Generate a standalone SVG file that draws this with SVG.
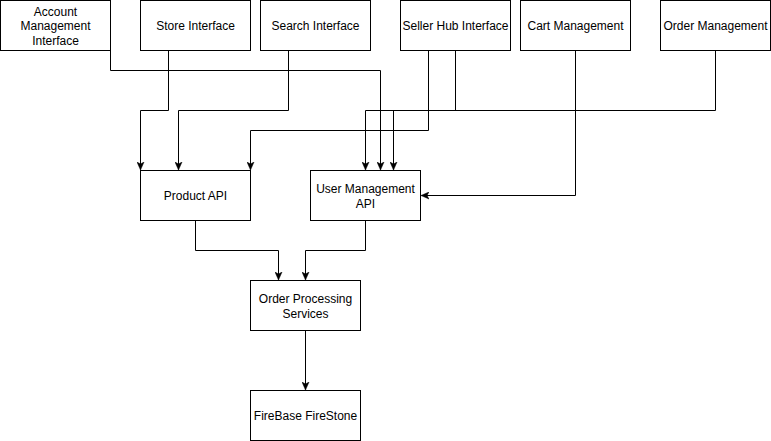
<svg xmlns="http://www.w3.org/2000/svg" width="771" height="441" viewBox="0 0 771 441">
<defs>
<marker id="arr" viewBox="0 0 8 8" refX="7.5" refY="4" markerWidth="8" markerHeight="8" markerUnits="userSpaceOnUse" orient="auto">
<path d="M0,0.5 L8,4 L0,7.5 L2,4 Z" fill="#000" stroke="#000" stroke-width="0.5"/>
</marker>
<style>
.box{fill:#fff;stroke:#000;stroke-width:1}
.t{font-family:"Liberation Sans",Arial,Helvetica,sans-serif;font-size:12px;fill:#000;text-anchor:middle;dominant-baseline:central}
.c{fill:none;stroke:#000;stroke-width:1;marker-end:url(#arr)}
</style>
</defs>
<rect width="771" height="441" fill="#fff"/>
<g transform="translate(0.5,0.5)">
<g id="connectors">
<path class="c" d="M110,50 L110,70 L380,70 L380,169"/>
<path class="c" d="M168,50 L168,110 L140,110 L140,169"/>
<path class="c" d="M288,50 L288,110 L178,110 L178,169"/>
<path class="c" d="M428,50 L428,130 L250,130 L250,169"/>
<path class="c" d="M455,50 L455,110 L365,110 L365,169"/>
<path class="c" d="M715,50 L715,110 L393,110 L393,169"/>
<path class="c" d="M575,50 L575,195 L421,195"/>
<path class="c" d="M195,220 L195,250 L278,250 L278,279"/>
<path class="c" d="M365,220 L365,250 L305,250 L305,279"/>
<path class="c" d="M305,330 L305,389"/>
</g>
<g id="account">
<rect class="box" x="0" y="0" width="110" height="50"/>
<text class="t" x="55" y="11">Account</text>
<text class="t" x="55" y="25">Management</text>
<text class="t" x="55" y="40">Interface</text>
</g>
<g id="store">
<rect class="box" x="140" y="0" width="110" height="50"/>
<text class="t" x="195" y="25">Store Interface</text>
</g>
<g id="search">
<rect class="box" x="260" y="0" width="110" height="50"/>
<text class="t" x="315" y="25">Search Interface</text>
</g>
<g id="sellerhub">
<rect class="box" x="400" y="0" width="110" height="50"/>
<text class="t" x="455" y="25">Seller Hub Interface</text>
</g>
<g id="cart">
<rect class="box" x="520" y="0" width="110" height="50"/>
<text class="t" x="575" y="25">Cart Management</text>
</g>
<g id="ordermgmt">
<rect class="box" x="660" y="0" width="110" height="50"/>
<text class="t" x="715" y="25">Order Management</text>
</g>
<g id="productapi">
<rect class="box" x="140" y="170" width="110" height="50"/>
<text class="t" x="195" y="195">Product API</text>
</g>
<g id="userapi">
<rect class="box" x="310" y="170" width="110" height="50"/>
<text class="t" x="365" y="188">User Management</text>
<text class="t" x="365" y="203">API</text>
</g>
<g id="orderproc">
<rect class="box" x="250" y="280" width="110" height="50"/>
<text class="t" x="305" y="298">Order Processing</text>
<text class="t" x="305" y="313">Services</text>
</g>
<g id="firebase">
<rect class="box" x="250" y="390" width="110" height="50"/>
<text class="t" x="305" y="415">FireBase FireStone</text>
</g>
</g>
</svg>
